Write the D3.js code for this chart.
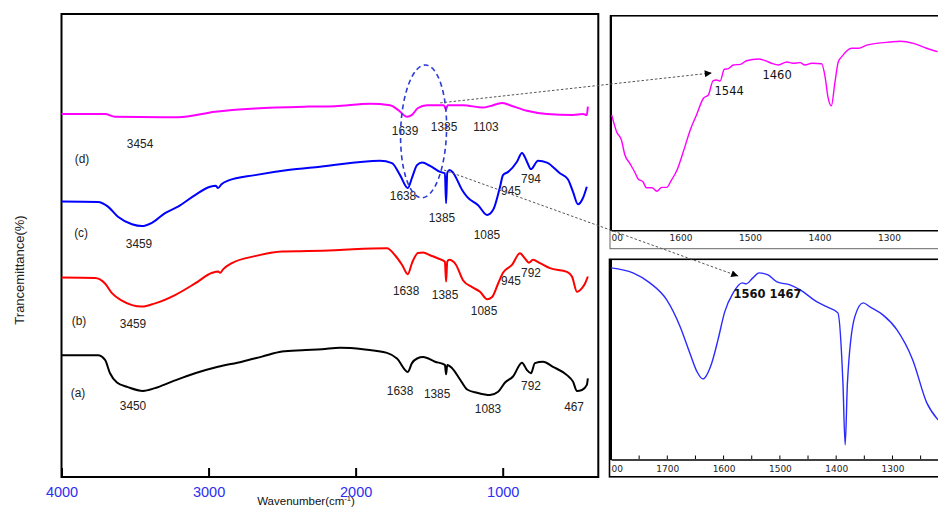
<!DOCTYPE html>
<html><head><meta charset="utf-8">
<script src="https://cdn.jsdelivr.net/npm/d3@7"></script>
<style>body{margin:0;background:#fff}svg{display:block}</style>
</head><body>
<svg id="c" width="938" height="508"></svg>
<script>
// ---------- DATA (wavenumber cm-1, transmittance a.u.) ----------
const curveD = [[4000,78.4],[3704,78.4],[3636,77.8],[3208,77.7],[2956,78.9],[2684,79.6],[2323,80.0],[2140,80.1],[1902,80.6],[1766,80.3],[1712,79.3],[1650,77.8],[1617,78.2],[1576,79.7],[1515,80.3],[1400,80.3],[1385,79.4],[1375,80.3],[1270,80.3],[1134,79.8],[1087,80.1],[1005,80.8],[951,80.3],[835,79.1],[699,78.4],[522,78.2],[455,78.4],[428,78.2],[421,80.0]];
const curveC = [[4000,59.5],[3752,59.4],[3684,58.4],[3616,56.2],[3521,54.6],[3453,54.2],[3385,54.9],[3296,57.0],[3208,58.4],[3092,60.9],[2990,62.7],[2950,62.9],[2936,62.4],[2910,63.3],[2868,64.0],[2684,65.2],[2460,66.3],[2242,67.0],[1834,68.3],[1753,67.8],[1698,65.2],[1645,62.4],[1617,64.6],[1582,67.4],[1548,67.9],[1494,67.2],[1426,65.9],[1393,65.6],[1385,59.1],[1377,65.7],[1360,66.3],[1337,65.7],[1276,62.0],[1242,60.5],[1167,58.7],[1106,56.6],[1065,57.7],[1018,62.7],[998,65.2],[963,65.9],[903,68.1],[869,70.0],[835,68.1],[808,66.5],[760,68.3],[699,67.9],[611,65.6],[557,64.3],[522,61.6],[488,58.9],[455,60.2],[428,62.7]];
const curveB = [[4000,43.1],[3772,43.0],[3704,41.8],[3657,39.7],[3589,38.1],[3453,36.8],[3364,37.5],[3228,39.3],[3092,41.8],[2976,44.1],[2935,44.4],[2922,44.1],[2900,44.9],[2841,46.2],[2684,47.7],[2501,48.7],[2323,48.8],[2140,49.0],[2018,49.2],[1787,49.4],[1732,47.9],[1684,45.8],[1645,43.8],[1617,46.2],[1576,48.4],[1541,48.5],[1494,47.9],[1439,47.2],[1393,46.5],[1385,42.2],[1377,46.5],[1364,46.9],[1317,45.8],[1270,42.5],[1208,41.0],[1154,40.0],[1106,38.4],[1072,38.9],[1031,41.8],[998,44.1],[937,45.8],[883,48.3],[849,47.2],[822,46.3],[794,46.9],[747,46.2],[679,45.1],[563,44.3],[529,43.3],[495,40.0],[461,40.8],[440,41.8],[421,43.3]];
const curveA = [[4000,26.3],[3752,26.3],[3704,25.3],[3670,22.4],[3623,20.4],[3548,19.4],[3446,18.6],[3364,19.2],[3249,20.6],[3092,22.4],[2936,23.8],[2773,24.9],[2637,26.0],[2501,27.1],[2365,27.4],[2229,27.6],[2106,27.9],[1950,27.6],[1787,26.8],[1719,25.6],[1645,22.7],[1617,24.6],[1582,25.6],[1541,25.9],[1460,24.9],[1393,24.2],[1385,22.2],[1377,24.2],[1344,23.5],[1289,21.0],[1242,18.9],[1174,18.2],[1087,17.7],[1031,18.4],[984,20.4],[930,21.7],[869,24.7],[835,23.1],[808,22.4],[781,24.6],[726,24.9],[658,23.8],[563,22.0],[522,20.6],[495,18.6],[461,18.8],[428,19.9],[421,21.3]];

// zoomed insets
const insetD = [[1699,53.7],[1692,45.9],[1685,42.0],[1680,35.0],[1673,31.1],[1665,26.5],[1661,23.8],[1654,22.5],[1649,19.7],[1641,19.7],[1634,18.1],[1627,19.9],[1620,19.9],[1613,23.3],[1605,28.0],[1596,36.5],[1586,46.7],[1577,53.7],[1567,61.5],[1560,63.0],[1553,69.7],[1548,70.0],[1543,69.5],[1537,75.0],[1531,75.3],[1524,77.0],[1514,77.3],[1505,79.0],[1488,79.8],[1478,79.0],[1469,77.8],[1459,77.0],[1447,78.4],[1438,77.8],[1428,78.1],[1421,77.0],[1411,77.8],[1397,77.6],[1392,71.5],[1388,62.2],[1383,57.9],[1378,68.5],[1373,78.5],[1368,80.9],[1354,84.8],[1344,84.8],[1332,86.3],[1318,87.1],[1299,87.7],[1284,88.1],[1265,87.1],[1246,84.8],[1230,83.2]];
const insetC = [[1800,95.7],[1761,93.2],[1731,88.2],[1701,79.7],[1677,66.2],[1660,53.2],[1647,43.7],[1637,40.2],[1621,48.2],[1610,59.7],[1598,73.7],[1583,83.2],[1567,88.2],[1560,87.7],[1548,90.7],[1537,93.2],[1521,92.2],[1505,88.7],[1482,87.2],[1464,84.7],[1434,78.7],[1416,76.2],[1397,73.2],[1388,38.2],[1384,7.2],[1380,38.2],[1367,71.2],[1352,78.2],[1340,76.2],[1317,72.2],[1292,64.7],[1264,49.7],[1239,28.2],[1219,19.7]];

// tick labels
const mainTicks = [4000, 3000, 2000, 1000];
const inset1Ticks = [1700, 1600, 1500, 1400, 1300];
const inset2Ticks = [1800, 1700, 1600, 1500, 1400, 1300];
const inset2Minor = [1750, 1650, 1550, 1450, 1350, 1250];

// peak labels: [text, wavenumber, T]
const labelsD = [["(d)",3861,68.9],["3454",3466,72.1],["1639",1664,74.8],["1385",1399,75.8],["1103",1114,75.8]];
const labelsC = [["(c)",3867,52.8],["3459",3473,50.5],["1638",1678,60.9],["1385",1413,56.1],["1085",1107,52.5],["945",944,62.0],["794",808,64.6]];
const labelsB = [["(b)",3881,33.9],["3459",3514,33.2],["1638",1657,40.4],["1385",1392,39.5],["1085",1127,36.1],["945",944,42.4],["792",808,44.3]];
const labelsA = [["(a)",3888,18.3],["3450",3514,15.6],["1638",1698,18.8],["1385",1446,18.1],["1083",1100,14.8],["792",808,19.9],["467",515,15.2]];
const inset1Labels = [["1544",1530,65.0],["1460",1461,72.3]];
const inset2Labels = [["1560 1467",1522,82.7]];

// ---------- DRAW ----------
const svg = d3.select("#c");
const x = d3.scaleLinear().domain([4000, 350]).range([61.5, 598.3]);
const y = d3.scaleLinear().domain([0, 100]).range([477, 14]);

svg.append("rect").attr("x",61.5).attr("y",14).attr("width",536.8).attr("height",463)
  .attr("fill","none").attr("stroke","#000").attr("stroke-width",2);

const xAxis = d3.axisBottom(x).tickValues(mainTicks).tickSize(-9).tickPadding(10).tickFormat(d3.format("d"));
const gx = svg.append("g").attr("transform","translate(0,477)").call(xAxis);
gx.select(".domain").remove();
gx.selectAll(".tick line").attr("stroke","#000").attr("stroke-width",2);
gx.selectAll(".tick text").attr("fill","#2e2ef2").attr("font-family","Liberation Sans, Arial, sans-serif").attr("font-size",14.5);

const line = d3.line().x(d=>x(d[0])).y(d=>y(d[1])).curve(d3.curveMonotoneX);
const series = [[curveD,"#ff00ff"],[curveC,"#0000ff"],[curveB,"#ff0000"],[curveA,"#000000"]];
series.forEach(([data,col])=>{
  svg.append("path").datum(data).attr("d",line).attr("fill","none").attr("stroke",col)
    .attr("stroke-width",2).attr("stroke-linejoin","round");
});

function peakLabels(arr){
  svg.append("g").selectAll("text").data(arr).join("text")
    .attr("transform",d=>`translate(${x(d[1])},${y(d[2])+4.8}) scale(0.88,1)`)
    .attr("text-anchor","middle").attr("font-family","Liberation Sans, Arial, sans-serif")
    .attr("font-size",13.5).attr("fill","#222").text(d=>d[0]);
}
[labelsD,labelsC,labelsB,labelsA].forEach(peakLabels);

// axis titles
const t = svg.append("text").attr("x",306).attr("y",504.5).attr("text-anchor","middle")
  .attr("font-family","Liberation Sans, Arial, sans-serif").attr("font-size",11.5).attr("fill","#111");
t.append("tspan").text("Wavenumber(cm");
t.append("tspan").attr("dy",-4).attr("font-size",7.5).text("-1");
t.append("tspan").attr("dy",4).text(")");
svg.append("text").attr("transform","translate(24,270) rotate(-90)").attr("text-anchor","middle")
  .attr("font-family","Liberation Sans, Arial, sans-serif").attr("font-size",13).attr("fill","#222")
  .text("Trancemittance(%)");

// dashed ellipse
const ex0 = x(1694), ex1 = x(1382), ey0 = y(89.0), ey1 = y(60.3);
svg.append("ellipse").attr("cx",(ex0+ex1)/2).attr("cy",(ey0+ey1)/2).attr("rx",(ex1-ex0)/2).attr("ry",(ey1-ey0)/2)
  .attr("transform",`rotate(1.7,${(ex0+ex1)/2},${(ey0+ey1)/2})`)
  .attr("fill","none").attr("stroke","#2a3bd6").attr("stroke-width",1.6).attr("stroke-dasharray","5,3.5");

// ---------- INSETS ----------
const defs = svg.append("defs");
defs.append("clipPath").attr("id","clipI").append("rect").attr("x",611).attr("y",0).attr("width",330).attr("height",508);
defs.append("marker").attr("id","arr").attr("viewBox","0 0 10 10").attr("refX",10).attr("refY",5)
  .attr("markerWidth",8).attr("markerHeight",7).attr("markerUnits","userSpaceOnUse").attr("orient","auto")
  .append("path").attr("d","M0,0L10,5L0,10Z").attr("fill","#000");

// inset 1 (magenta)
const x1 = d3.scaleLinear().domain([1700,1230]).range([611,937.7]);
const y1 = d3.scaleLinear().domain([0,100]).range([230,15.7]);
const g1 = svg.append("g");
g1.append("rect").attr("x",610).attr("y",15.7).attr("width",340).attr("height",233).attr("fill","#fff").attr("stroke","#666").attr("stroke-width",1);
g1.append("line").attr("x1",610).attr("x2",940).attr("y1",15.7).attr("y2",15.7).attr("stroke","#000").attr("stroke-width",1.6);
g1.append("line").attr("x1",611).attr("x2",611).attr("y1",15).attr("y2",231).attr("stroke","#000").attr("stroke-width",2);
const a1 = g1.append("g").attr("clip-path","url(#clipI)").attr("transform","translate(0,230)")
  .call(d3.axisBottom(x1).tickValues(inset1Ticks).tickSize(0).tickPadding(5).tickFormat(d3.format("d")));
a1.select(".domain").attr("stroke","#000").attr("stroke-width",2);
a1.selectAll("text").attr("font-family","DejaVu Sans, Verdana, sans-serif").attr("font-size",9).attr("fill","#222");
g1.append("path").datum(insetD).attr("clip-path","url(#clipI)")
  .attr("d",d3.line().x(d=>x1(d[0])).y(d=>y1(d[1])).curve(d3.curveMonotoneX))
  .attr("fill","none").attr("stroke","#ff00ff").attr("stroke-width",1.4);
g1.selectAll("text.lab").data(inset1Labels).join("text").attr("class","lab")
  .attr("x",d=>x1(d[1])).attr("y",d=>y1(d[2])+4.2).attr("text-anchor","middle")
  .attr("font-family","DejaVu Sans, Verdana, sans-serif").attr("font-size",11.5).attr("fill","#111").text(d=>d[0]);

// inset 2 (blue)
const x2 = d3.scaleLinear().domain([1800,1220]).range([611,937.5]);
const y2 = d3.scaleLinear().domain([0,100]).range([459.3,259.3]);
const g2 = svg.append("g");
g2.append("rect").attr("x",609.5).attr("y",259.3).attr("width",340).attr("height",217.5).attr("fill","#fff").attr("stroke","#000").attr("stroke-width",1.6);
g2.append("line").attr("x1",611).attr("x2",611).attr("y1",259).attr("y2",460).attr("stroke","#000").attr("stroke-width",2);
const a2 = g2.append("g").attr("clip-path","url(#clipI)").attr("transform","translate(0,459.3)")
  .call(d3.axisBottom(x2).tickValues(inset2Ticks).tickSize(0).tickPadding(6).tickFormat(d3.format("d")));
a2.select(".domain").attr("stroke","#000").attr("stroke-width",2);
a2.selectAll("text").attr("font-family","DejaVu Sans, Verdana, sans-serif").attr("font-size",9).attr("fill","#222");
g2.append("g").selectAll("line").data(inset2Minor.concat(inset2Ticks.slice(1))).join("line")
  .attr("x1",d=>x2(d)).attr("x2",d=>x2(d)).attr("y1",459).attr("y2",455.5).attr("stroke","#000").attr("stroke-width",1);
g2.append("path").datum(insetC).attr("clip-path","url(#clipI)")
  .attr("d",d3.line().x(d=>x2(d[0])).y(d=>y2(d[1])).curve(d3.curveMonotoneX))
  .attr("fill","none").attr("stroke","#2b2bff").attr("stroke-width",1.4);
g2.selectAll("text.lab").data(inset2Labels).join("text").attr("class","lab")
  .attr("x",d=>x2(d[1])).attr("y",d=>y2(d[2])+4.2).attr("text-anchor","middle")
  .attr("font-family","DejaVu Sans, Verdana, sans-serif").attr("font-size",11.5).attr("font-weight","bold")
  .attr("fill","#111").text(d=>d[0]);

// arrows
svg.append("line").attr("x1",x(1425)).attr("y1",y(80.8)).attr("x2",x1(1555)).attr("y2",y1(73.3))
  .attr("stroke","#555").attr("stroke-width",1).attr("stroke-dasharray","2.5,2").attr("marker-end","url(#arr)");
svg.append("line").attr("x1",x(1399)).attr("y1",y(66.3)).attr("x2",x2(1574)).attr("y2",y2(91.6))
  .attr("stroke","#555").attr("stroke-width",1).attr("stroke-dasharray","2.5,2").attr("marker-end","url(#arr)");
</script>
</body></html>
